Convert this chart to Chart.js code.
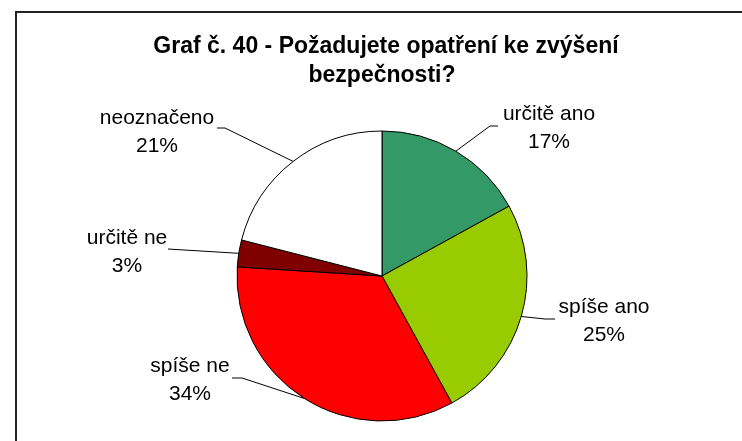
<!DOCTYPE html>
<html>
<head>
<meta charset="utf-8">
<script src="https://cdn.jsdelivr.net/npm/chart.js@4"></script>
<style>
  html, body { margin: 0; padding: 0; background: #fff; }
  #wrap { width: 742px; height: 441px; position: relative; }
</style>
</head>
<body>
<div id="wrap"><canvas id="graf40" width="742" height="441"></canvas></div>
<script>
const titleLines = ['Graf č. 40 - Požadujete opatření ke zvýšení', 'bezpečnosti?']
const categories = ['určitě ano', 'spíše ano', 'spíše ne', 'určitě ne', 'neoznačeno']
const percents = [17, 25, 34, 3, 21]
const colors = ['#339966', '#99CC00', '#FF0000', '#800000', '#FFFFFF']

// where each data label sits (text centre x, first baseline y) and the leader elbow/end
const labelLayout = [
    { x: 549, y: 120, elbow: [490, 126], end: [498, 126] },
    { x: 604, y: 313, elbow: [545, 319], end: [555, 319] },
    { x: 190, y: 372, elbow: [242, 378], end: [232, 378] },
    { x: 127, y: 244, elbow: [176, 249.5], end: [168, 249] },
    { x: 157, y: 124, elbow: [225, 128], end: [217, 128] }
]

const kresba = {
    id: 'kresba',
    beforeDraw(chart) {
        const c = chart.ctx
        c.save()
        c.fillStyle = '#fff'
        c.fillRect(0, 0, chart.width, chart.height)
        // frame (only left and top edges visible)
        c.strokeStyle = '#222'
        c.lineWidth = 2
        c.beginPath()
        c.moveTo(16, chart.height + 5)
        c.lineTo(16, 12)
        c.lineTo(chart.width + 5, 12)
        c.stroke()
        // title
        c.fillStyle = '#000'
        c.font = 'bold 23px "Liberation Sans", Arial, sans-serif'
        c.textAlign = 'center'
        c.textBaseline = 'alphabetic'
        c.fillText(titleLines[0], 386, 53)
        c.fillText(titleLines[1], 382, 82)
        c.restore()
    },
    afterDatasetsDraw(chart) {
        const c = chart.ctx
        const arcs = chart.getDatasetMeta(0).data
        c.save()
        c.strokeStyle = '#000'
        c.lineWidth = 1
        c.fillStyle = '#000'
        c.font = '21px "Liberation Sans", Arial, sans-serif'
        c.textAlign = 'center'
        arcs.forEach((arc, i) => {
            const p = arc.getProps(['x', 'y', 'startAngle', 'endAngle', 'outerRadius'], true)
            const mid = (p.startAngle + p.endAngle) / 2
            const ex = p.x + Math.cos(mid) * p.outerRadius
            const ey = p.y + Math.sin(mid) * p.outerRadius
            const L = labelLayout[i]
            c.beginPath()
            c.moveTo(ex, ey)
            c.lineTo(L.elbow[0], L.elbow[1])
            c.lineTo(L.end[0], L.end[1])
            c.stroke()
            c.fillText(categories[i], L.x, L.y)
            c.fillText(percents[i] + '%', L.x, L.y + 28)
        })
        c.restore()
    }
}

new Chart(document.getElementById('graf40'), {
    type: 'pie',
    data: {
        labels: categories,
        datasets: [{
            data: percents,
            backgroundColor: colors,
            borderColor: '#000',
            borderWidth: 1
        }]
    },
    options: {
        responsive: false,
        animation: false,
        radius: 145,
        layout: { padding: { left: 237, right: 215, top: 131, bottom: 20 } },
        plugins: {
            legend: { display: false },
            tooltip: { enabled: false },
            title: { display: false }
        }
    },
    plugins: [kresba]
})
</script>
</body>
</html>
